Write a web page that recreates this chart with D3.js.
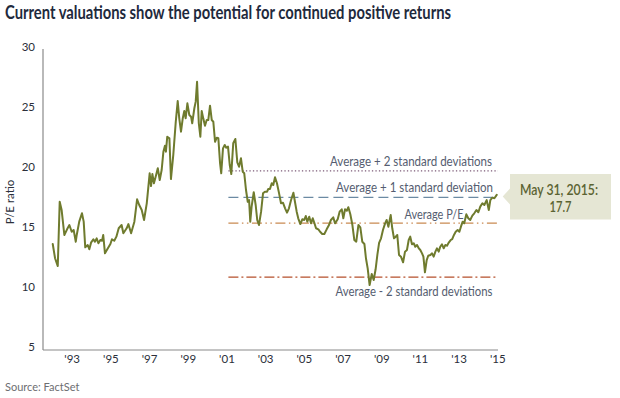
<!DOCTYPE html>
<html>
<head>
<meta charset="utf-8">
<script src="https://cdn.jsdelivr.net/npm/d3@7/dist/d3.min.js"></script>
<style>
  html, body { margin: 0; padding: 0; background: #fff; }
  svg { display: block; font-family: Lato, "Open Sans", Roboto, sans-serif; }
</style>
</head>
<body>
<svg id="chart" width="620" height="398"></svg>
<script>
// ---- data (decimal year, forward P/E) ----
const years = [
1992.02,1992.14,1992.28,1992.38,1992.48,1992.62,1992.76,1992.88,1993.00,1993.10,1993.21,1993.26,1993.39,1993.53,1993.62,1993.70,1993.83,1993.91,
1994.00,1994.12,1994.20,1994.29,1994.38,1994.48,1994.57,1994.63,1994.72,1994.84,1995.00,1995.08,1995.20,1995.31,1995.43,1995.58,1995.67,1995.84,1995.93,
1996.07,1996.24,1996.38,1996.49,1996.62,1996.74,1996.88,1997.03,1997.10,1997.17,1997.25,1997.34,1997.45,1997.55,1997.65,1997.74,1997.82,1997.87,1997.94,
1998.05,1998.13,1998.25,1998.38,1998.48,1998.56,1998.65,1998.74,1998.82,1998.89,1998.98,1999.08,1999.17,1999.23,1999.34,1999.41,1999.48,1999.57,1999.65,1999.72,1999.80,1999.89,1999.98,
2000.06,2000.15,2000.24,2000.32,2000.41,2000.50,2000.58,2000.67,2000.73,2000.82,2000.91,2000.99,2001.08,2001.17,2001.25,2001.35,2001.46,2001.56,2001.65,2001.75,2001.84,2001.92,
2002.01,2002.10,2002.17,2002.23,2002.30,2002.41,2002.51,2002.59,2002.68,2002.79,2002.89,2002.99,2003.10,2003.16,2003.25,2003.34,2003.42,2003.51,2003.61,2003.72,2003.82,2003.92,
2004.03,2004.13,2004.23,2004.34,2004.46,2004.54,2004.63,2004.71,2004.82,2004.92,2005.02,2005.10,2005.18,2005.28,2005.37,2005.46,2005.54,2005.63,2005.75,2005.84,2005.95,
2006.06,2006.18,2006.30,2006.40,2006.52,2006.61,2006.75,2006.85,2006.96,2007.04,2007.13,2007.22,2007.30,2007.40,2007.51,2007.61,2007.71,2007.82,2007.92,
2008.02,2008.13,2008.21,2008.30,2008.40,2008.51,2008.61,2008.71,2008.80,2008.89,2008.99,2009.09,2009.20,2009.28,2009.37,2009.49,2009.57,2009.66,2009.75,2009.83,2009.92,
2010.02,2010.13,2010.23,2010.33,2010.42,2010.50,2010.59,2010.68,2010.76,2010.85,2010.94,2011.02,2011.11,2011.18,2011.26,2011.35,2011.43,2011.54,2011.63,2011.71,2011.80,2011.88,2011.97,
2012.05,2012.14,2012.23,2012.31,2012.40,2012.50,2012.59,2012.67,2012.76,2012.85,2012.95,2013.04,2013.12,2013.21,2013.29,2013.40,2013.50,2013.60,2013.71,2013.81,2013.92,
2014.02,2014.12,2014.23,2014.33,2014.45,2014.56,2014.64,2014.74,2014.85,2014.97
];
const peValues = [
13.61,12.42,11.77,17.13,16.44,14.36,14.83,15.19,14.63,14.78,13.80,14.36,15.47,16.17,15.47,13.33,13.52,13.17,
13.72,14.00,13.80,14.08,13.67,13.94,13.88,14.36,12.83,13.17,13.61,14.00,13.88,14.22,14.92,15.19,14.50,14.92,15.27,
14.50,15.47,17.33,16.86,16.44,15.61,17.00,19.50,18.44,19.44,18.67,19.22,19.92,18.94,19.77,21.30,21.80,21.30,22.55,
22.42,19.02,21.02,23.80,25.52,24.08,22.97,24.08,24.69,24.08,25.33,24.36,24.22,23.67,24.92,25.47,27.13,23.67,22.55,24.69,24.08,23.47,23.94,
23.94,25.13,23.94,23.80,22.13,22.47,22.42,20.33,19.50,21.58,21.86,21.63,21.72,20.19,19.44,22.00,22.36,20.42,20.05,20.75,19.63,19.50,
18.11,17.13,17.27,15.47,16.72,17.92,16.86,15.61,15.19,16.30,17.83,17.97,17.97,18.19,18.20,18.67,18.52,19.17,18.67,17.83,17.00,17.05,
16.58,16.22,16.58,17.27,17.88,17.13,16.30,15.75,15.27,15.67,15.61,15.94,15.47,15.88,15.33,15.75,15.38,14.92,14.83,14.63,14.44,
14.44,14.83,15.19,15.61,15.83,15.33,15.67,16.30,16.50,15.75,16.50,16.38,16.67,16.11,15.19,13.94,13.80,15.19,15.00,
13.80,13.61,12.42,11.58,10.19,11.11,10.61,11.50,12.70,13.70,14.08,14.77,15.33,15.61,15.05,16.02,14.92,14.08,14.22,14.36,12.69,
12.55,12.08,12.97,13.11,13.94,14.22,13.58,13.67,13.38,13.52,13.25,13.11,12.83,12.55,11.25,12.27,12.63,12.69,12.83,12.55,12.97,13.25,12.97,
13.38,13.58,13.25,13.52,13.47,13.75,13.94,14.02,14.36,14.63,14.78,14.63,15.05,15.47,15.33,16.08,15.75,15.61,15.97,16.17,16.44,
16.25,16.72,17.00,16.86,17.27,16.44,17.27,17.47,17.42,17.70
];
const yTicks = [5, 10, 15, 20, 25, 30];
const xTicks = [1993, 1995, 1997, 1999, 2001, 2003, 2005, 2007, 2009, 2011, 2013, 2015];
const xTickLabels = ["'93","'95","'97","'99","'01","'03","'05","'07","'09","'11","'13","'15"];
const refNames = ["Average + 2 standard deviations", "Average + 1 standard deviation", "Average P/E", "Average - 2 standard deviations"];
const refValues = [19.7, 17.5, 15.35, 10.85];
const refStart = 2001.1;
const titleText = "Current valuations show the potential for continued positive returns";
const calloutLines = ["May 31, 2015:", "17.7"];

// ---- scales ----
const svg = d3.select("#chart");
const x = d3.scaleLinear().domain([1993, 2015]).range([71.7, 497.3]);
const y = d3.scaleLinear().domain([5, 30]).range([347.3, 47.3]);

// title
svg.append("text").attr("x", 5).attr("y", 18.5)
  .attr("font-size", 18).attr("font-weight", 700).attr("fill", "#1f2a3d")
  .attr("textLength", 446).attr("lengthAdjust", "spacingAndGlyphs")
  .text(titleText);

// axes lines
svg.append("line").attr("x1", 43).attr("x2", 43).attr("y1", 49).attr("y2", 350)
  .attr("stroke", "#8a8a8a").attr("stroke-width", 1.2);
svg.append("line").attr("x1", 43).attr("x2", 498).attr("y1", 350).attr("y2", 350)
  .attr("stroke", "#8a8a8a").attr("stroke-width", 1.2);

// y axis
const yAxis = d3.axisLeft(y).tickValues(yTicks).tickSize(0).tickPadding(0);
const gy = svg.append("g").attr("transform", "translate(35,0)").call(yAxis);
gy.select(".domain").remove();
gy.selectAll("text").attr("font-size", 11.5).attr("fill", "#2b2f3a")
  .attr("font-family", "Lato, 'Open Sans', sans-serif");

// x axis
const xAxis = d3.axisBottom(x).tickValues(xTicks).tickSize(0).tickPadding(0)
  .tickFormat((d, i) => xTickLabels[i]);
const gx = svg.append("g").attr("transform", "translate(0,355)").call(xAxis);
gx.select(".domain").remove();
gx.selectAll("text").attr("font-size", 11.5).attr("fill", "#2b2f3a")
  .attr("font-family", "Lato, 'Open Sans', sans-serif");

// y title
svg.append("text").attr("transform", "translate(14,202) rotate(-90)")
  .attr("text-anchor", "middle").attr("font-size", 11.5).attr("fill", "#2b2f3a")
  .text("P/E ratio");

// reference lines
const refStyles = [
  { color: "#7d5b78", dash: "1.3,2.2" },
  { color: "#6b8aa3", dash: "10,5" },
  { color: "#c98a52", dash: "10,3.5,1.5,3.5,1.5,3.5" },
  { color: "#b5502c", dash: "10,3,2,3" }
];
const refLabelPos = [
  { endX: 492, dy: -5, w: 162 },
  { endX: 493, dy: -5, w: 157 },
  { endX: 463.5, dy: -4, w: 59 },
  { endX: 492.5, dy: 19, w: 157 }
];
refValues.forEach((v, i) => {
  svg.append("line")
    .attr("x1", x(refStart)).attr("x2", 498)
    .attr("y1", y(v)).attr("y2", y(v))
    .attr("stroke", refStyles[i].color).attr("stroke-width", 1.2)
    .attr("stroke-dasharray", refStyles[i].dash);
  svg.append("text")
    .attr("x", refLabelPos[i].endX - refLabelPos[i].w).attr("y", y(v) + refLabelPos[i].dy)
    .attr("font-size", 12.5).attr("fill", "#555d70")
    .attr("textLength", refLabelPos[i].w).attr("lengthAdjust", "spacingAndGlyphs")
    .text(refNames[i]);
});

// P/E line
const data = years.map((yr, i) => ({ yr, v: peValues[i] }));
const line = d3.line().x(d => x(d.yr)).y(d => y(d.v));
svg.append("path").datum(data).attr("d", line)
  .attr("fill", "none").attr("stroke", "#6f7b2e").attr("stroke-width", 2)
  .attr("stroke-linejoin", "round").attr("stroke-linecap", "round");

// callout
const last = data[data.length - 1];
const px = x(last.yr) + 6, py = y(last.v) + 1.5;
svg.append("path")
  .attr("d", `M${px},${py} L510,${py - 8} L510,174 L611,174 L611,219.5 L510,219.5 L510,${py + 8} Z`)
  .attr("fill", "#e5e6d4");
const ct = svg.append("g").attr("font-size", 15).attr("font-weight", 600).attr("fill", "#5b6332");
ct.append("text").attr("x", 520).attr("y", 194.5)
  .attr("textLength", 78).attr("lengthAdjust", "spacingAndGlyphs").text(calloutLines[0]);
ct.append("text").attr("x", 549.5).attr("y", 212)
  .attr("textLength", 22).attr("lengthAdjust", "spacingAndGlyphs").text(calloutLines[1]);

// source
svg.append("text").attr("x", 5).attr("y", 391).attr("font-size", 11)
  .attr("fill", "#6d6e71").text("Source: FactSet");
</script>
</body>
</html>
